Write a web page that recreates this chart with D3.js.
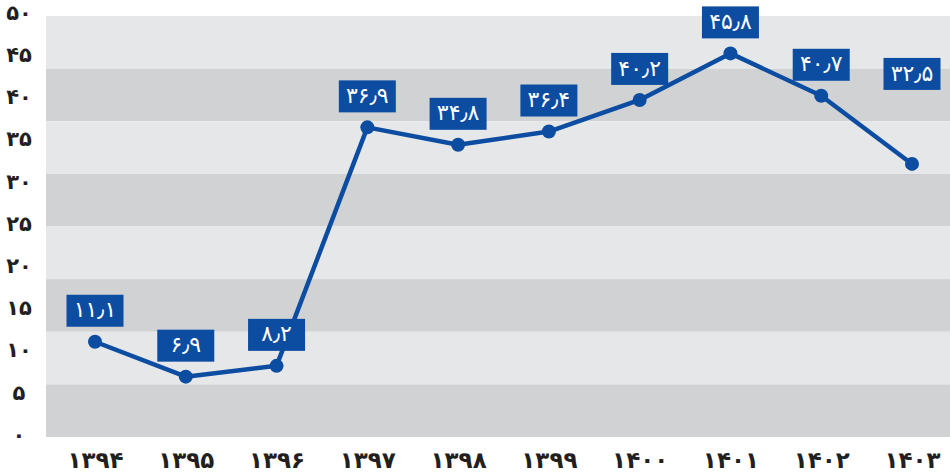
<!DOCTYPE html>
<html lang="fa">
<head>
<meta charset="utf-8">
<title>Chart</title>
<script src="https://cdn.jsdelivr.net/npm/d3@7"></script>
<style>
  body { margin: 0; background: #fff; }
  text { font-family: "DejaVu Sans", sans-serif; }
</style>
</head>
<body>
<script>
// data
var years = ["1394", "1395", "1396", "1397", "1398", "1399", "1400", "1401", "1402", "1403"];
var values = [11.1, 6.9, 8.2, 36.9, 34.8, 36.4, 40.2, 45.8, 40.7, 32.5];
var yTicks = [0, 5, 10, 15, 20, 25, 30, 35, 40, 45, 50];

var w = 950, h = 476;
var plotLeft = 46, plotRight = 950, plotTop = 16, plotBottom = 437;
var blue = "#0c4da2";

// persian digits
var fa = "۰۱۲۳۴۵۶۷۸۹";
function toFa(s) {
  return String(s).replace(/[0-9]/g, function(c) { return fa[+c]; }).replace(".", "٫");
}

var svg = d3.select("body").append("svg")
  .attr("width", w)
  .attr("height", h);

var x = d3.scalePoint()
  .domain(years)
  .range([95, 912]);

var y = d3.scaleLinear()
  .domain([0, 50])
  .range([434, 18.5]);

// tick labels sit on a slightly wider spread than the plot
var yLab = d3.scaleLinear()
  .domain([0, 50])
  .range([435, 13]);

// background bands
var nBands = 8;
var bandH = (plotBottom - plotTop) / nBands;
svg.selectAll("rect.band")
  .data(d3.range(nBands))
  .enter()
  .append("rect")
  .attr("class", "band")
  .attr("x", plotLeft)
  .attr("width", plotRight - plotLeft)
  .attr("y", function(i) { return plotTop + i * bandH; })
  .attr("height", bandH)
  .attr("fill", function(i) { return i % 2 == 0 ? "#e6e7e9" : "#d1d2d4"; });

// y axis labels
var yAxis = d3.axisLeft(yLab)
  .tickValues(yTicks)
  .tickSize(0)
  .tickFormat(toFa);

var gy = svg.append("g")
  .attr("transform", "translate(19,0)")
  .call(yAxis);
gy.select(".domain").remove();
gy.selectAll("text")
  .attr("x", 0)
  .attr("text-anchor", "middle")
  .attr("dy", "0.3em")
  .style("font-size", "21px")
  .style("font-weight", "bold")
  .attr("fill", "#231f20");

// x axis labels
var xAxis = d3.axisBottom(x)
  .tickSize(0)
  .tickFormat(toFa);

var gx = svg.append("g")
  .attr("transform", "translate(0,461)")
  .call(xAxis);
gx.select(".domain").remove();
gx.selectAll("text")
  .attr("y", 0)
  .attr("dy", "0.3em")
  .style("font-size", "23px")
  .style("font-weight", "bold")
  .attr("fill", "#231f20");

// line
var line = d3.line()
  .x(function(d, i) { return x(years[i]); })
  .y(function(d) { return y(d); });

svg.append("path")
  .datum(values)
  .attr("d", line)
  .attr("fill", "none")
  .attr("stroke", blue)
  .attr("stroke-width", 4.5)
  .attr("stroke-linejoin", "round");

svg.selectAll("circle.dot")
  .data(values)
  .enter()
  .append("circle")
  .attr("class", "dot")
  .attr("cx", function(d, i) { return x(years[i]); })
  .attr("cy", function(d) { return y(d); })
  .attr("r", 7)
  .attr("fill", blue);

// value labels
var boxW = 57, boxH = 32;
function labelY(d, i) {
  // the last label was lifted well above its point
  return i == values.length - 1 ? y(d) - 90 : y(d) - 31;
}

var lab = svg.selectAll("g.lab")
  .data(values)
  .enter()
  .append("g")
  .attr("class", "lab")
  .attr("transform", function(d, i) {
    return "translate(" + x(years[i]) + "," + labelY(d, i) + ")";
  });

lab.append("rect")
  .attr("x", -boxW / 2)
  .attr("y", -boxH / 2)
  .attr("width", boxW)
  .attr("height", boxH)
  .attr("fill", blue);

lab.append("text")
  .attr("text-anchor", "middle")
  .attr("dy", "0.3em")
  .attr("fill", "#fff")
  .style("font-size", "22px")
  .text(function(d) { return toFa(d); });
</script>
</body>
</html>
